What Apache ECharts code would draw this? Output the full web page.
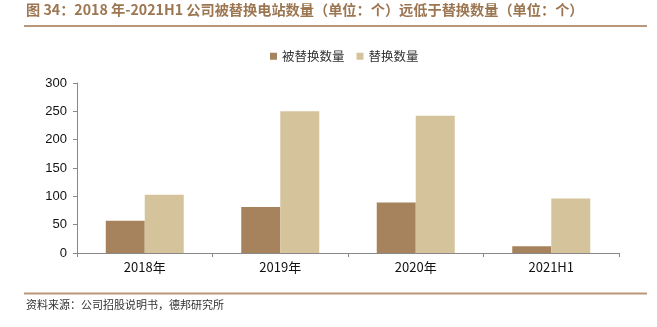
<!DOCTYPE html>
<html><head><meta charset="utf-8">
<script src="https://cdn.jsdelivr.net/npm/echarts@6/dist/echarts.min.js"></script>
<style>html,body{margin:0;padding:0;background:#fff}#c{width:657px;height:327px}</style>
</head><body><div id="c"></div>
<script>
var categories = ['2018年', '2019年', '2020年', '2021H1'];
var replacedStations = [57, 81, 89, 12];
var replacements = [103, 250, 242, 96];
var seriesNames = ['被替换数量', '替换数量'];
var yTicks = {min: 0, max: 300, interval: 50};
var titleText = '图 34：2018 年-2021H1 公司被替换电站数量（单位：个）远低于替换数量（单位：个）';
var sourceText = '资料来源：公司招股说明书，德邦研究所';

var chart = echarts.init(document.getElementById('c'));
var cjk = '"Noto Sans CJK SC", "Liberation Sans", sans-serif';
chart.setOption({
  animation: false,
  graphic: [
    {type: 'text', left: 26, top: 3, style: {text: titleText, fill: '#9c7651', font: 'bold 14.2px ' + cjk}},
    {type: 'rect', shape: {x: 24, y: 25, width: 623, height: 2}, style: {fill: '#b9977a'}},
    {type: 'rect', shape: {x: 24, y: 292.5, width: 623, height: 2}, style: {fill: '#b9977a'}},
    {type: 'text', left: 26, top: 299, style: {text: sourceText, fill: '#333', font: '11px ' + cjk}}
  ],
  legend: {
    top: 45, left: 265, itemWidth: 7, itemHeight: 7, itemGap: 12,
    icon: 'rect',
    textStyle: {fontFamily: cjk, fontSize: 12.5, color: '#333'},
    data: seriesNames
  },
  grid: {left: 77, right: 38, top: 83, bottom: 74},
  xAxis: {
    type: 'category', data: categories,
    axisLine: {lineStyle: {color: '#888'}},
    axisTick: {show: true, length: 4, lineStyle: {color: '#888'}},
    axisLabel: {color: '#111', fontSize: 13, fontFamily: cjk, margin: 8}
  },
  yAxis: {
    type: 'value', min: yTicks.min, max: yTicks.max, interval: yTicks.interval,
    splitLine: {show: false},
    axisLine: {show: true, lineStyle: {color: '#888'}},
    axisTick: {show: true, length: 4, lineStyle: {color: '#888'}},
    axisLabel: {color: '#111', fontSize: 13, fontFamily: '"Liberation Sans", sans-serif', margin: 10}
  },
  series: [
    {name: seriesNames[0], type: 'bar', data: replacedStations, barWidth: 39, barGap: '0%', itemStyle: {color: '#a6835d'}},
    {name: seriesNames[1], type: 'bar', data: replacements, barWidth: 39, barGap: '0%', itemStyle: {color: '#d5c49b'}}
  ]
});
</script></body></html>
